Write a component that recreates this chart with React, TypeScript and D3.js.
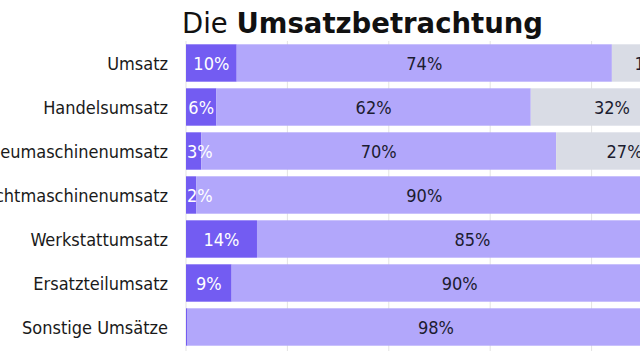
import React, { useEffect, useRef } from "react";
import * as d3 from "d3";

const categories = [
  "Umsatz",
  "Handelsumsatz",
  "Neumaschinenumsatz",
  "Gebrauchtmaschinenumsatz",
  "Werkstattumsatz",
  "Ersatzteilumsatz",
  "Sonstige Umsätze",
];

// three stacked parts per row, in percent
const firstPart = [10, 6, 3, 2, 14, 9, 0.3];
const secondPart = [74, 62, 70, 90, 85, 90, 98];
const thirdPart = [16, 32, 27, 8, 1, 1, 2];

const xTicks = [0, 20, 40, 60, 80, 100];
const seriesColors = ["#735cf2", "#b2a7fb", "#d9dce5"];
const labelColors = ["#ffffff", "#1c1c30", "#1c1c30"];

const FONT = "'DejaVu Sans Condensed', 'DejaVu Sans', sans-serif";

function App() {
  const ref = useRef<SVGSVGElement>(null);

  useEffect(() => {
    const svg = d3.select(ref.current);
    svg.selectAll("*").remove();

    const x = d3.scaleLinear().domain([0, 100]).range([186, 693]);
    const y = d3
      .scaleBand()
      .domain(categories)
      .range([41, 349])
      .paddingInner(0.15)
      .paddingOuter(0.075);

    const rows = categories.map((c, i) => {
      let acc = 0;
      return {
        name: c,
        segs: [firstPart[i], secondPart[i], thirdPart[i]].map((v, k) => {
          const s = { k, v, x0: x(acc), x1: x(acc + v) };
          acc += v;
          return s;
        }),
      };
    });

    // gridlines
    svg
      .append("g")
      .selectAll("line")
      .data(xTicks)
      .enter()
      .append("line")
      .attr("x1", d => x(d))
      .attr("x2", d => x(d))
      .attr("y1", 41)
      .attr("y2", 351)
      .attr("stroke", "#e3e3e3")
      .attr("stroke-width", 1);

    const rowG = svg
      .append("g")
      .selectAll("g")
      .data(rows)
      .enter()
      .append("g")
      .attr("transform", d => `translate(0, ${y(d.name)})`);

    rowG
      .selectAll("rect")
      .data(d => d.segs)
      .enter()
      .append("rect")
      .attr("x", d => d.x0)
      .attr("y", 0)
      .attr("width", d => Math.max(0, d.x1 - d.x0))
      .attr("height", y.bandwidth())
      .attr("fill", d => seriesColors[d.k]);

    // labels after all rects so nothing covers them
    rowG
      .selectAll("text")
      .data(d => d.segs.filter(s => s.v >= 1))
      .enter()
      .append("text")
      .attr("x", d => {
        const estW = `${Math.round(d.v)}%`.length * 0.6 * 18;
        return Math.max((d.x0 + d.x1) / 2, d.x0 + 3 + estW / 2);
      })
      .attr("y", y.bandwidth() / 2 + 7)
      .attr("text-anchor", "middle")
      .style("font-family", FONT)
      .style("font-size", "18px")
      .attr("fill", d => labelColors[d.k])
      .text(d => `${Math.round(d.v)}%`);

    // category labels
    svg
      .append("g")
      .selectAll("text")
      .data(categories)
      .enter()
      .append("text")
      .attr("x", 168)
      .attr("y", d => (y(d) as number) + y.bandwidth() / 2 + 7)
      .attr("text-anchor", "end")
      .style("font-family", FONT)
      .style("font-size", "18px")
      .attr("fill", "#1a1a1a")
      .text(d => d);

    // title
    const title = svg
      .append("text")
      .attr("x", 182)
      .attr("y", 33)
      .style("font-family", "'DejaVu Sans', sans-serif")
      .style("font-size", "27.5px")
      .attr("fill", "#111");
    title.append("tspan").text("Die ");
    title.append("tspan").style("font-weight", "bold").text("Umsatzbetrachtung");
  });

  return (
    <div style={{ position: "fixed", left: 0, top: 0 }}>
      <svg ref={ref} width={640} height={360} style={{ display: "block", background: "#fff" }} />
    </div>
  );
}

export default App;
